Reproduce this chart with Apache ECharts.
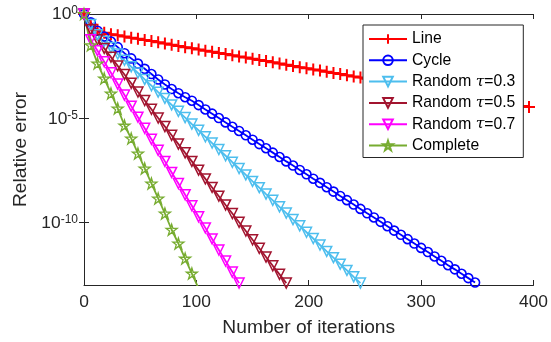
<!DOCTYPE html>
<html><head><meta charset="utf-8">
<script src="https://cdn.jsdelivr.net/npm/echarts@6/dist/echarts.min.js"></script>
<style>html,body{margin:0;padding:0;background:#fff}#c{width:551px;height:342px}</style>
</head><body><div id="c"></div>
<script>
// Iteration counts at which the errors were recorded
const iterations = [0,6,12,18,24,30,36,42,48,54,60,66,72,78,84,90,96,102,108,114,120,126,132,138,144,150,156,162,168,174,180,186,192,198,204,210,216,222,228,234,240,246,252,258,264,270,276,282,288,294,300,306,312,318,324,330,336,342,348,354,360,366,372,378,384,390,396];
// log10 of relative error
const lineLog10 = [0,-0.5,-0.75,-0.9,-0.97,-1.02,-1.08,-1.14,-1.19,-1.25,-1.30,-1.36,-1.42,-1.47,-1.53,-1.59,-1.64,-1.70,-1.76,-1.81,-1.87,-1.92,-1.98,-2.04,-2.09,-2.15,-2.21,-2.26,-2.32,-2.38,-2.43,-2.49,-2.55,-2.60,-2.66,-2.71,-2.77,-2.83,-2.88,-2.94,-3.00,-3.05,-3.11,-3.17,-3.22,-3.28,-3.33,-3.39,-3.45,-3.50,-3.56,-3.62,-3.67,-3.73,-3.79,-3.84,-3.90,-3.96,-4.01,-4.07,-4.12,-4.18,-4.24,-4.29,-4.35,-4.41,-4.46];
const cycleLog10 = [0,-0.40,-0.80,-1.08,-1.32,-1.59,-1.88,-2.13,-2.38,-2.63,-2.88,-3.14,-3.38,-3.60,-3.80,-3.99,-4.16,-4.37,-4.58,-4.78,-4.99,-5.20,-5.41,-5.61,-5.82,-6.03,-6.24,-6.44,-6.65,-6.86,-7.07,-7.27,-7.48,-7.69,-7.90,-8.10,-8.31,-8.52,-8.73,-8.93,-9.14,-9.35,-9.56,-9.76,-9.97,-10.18,-10.39,-10.59,-10.80,-11.01,-11.22,-11.42,-11.63,-11.84,-12.05,-12.25,-12.46,-12.67,-12.88];
const rand03Log10 = [0,-0.5,-1.0,-1.31,-1.61,-1.92,-2.22,-2.53,-2.83,-3.14,-3.44,-3.75,-4.05,-4.36,-4.67,-4.97,-5.28,-5.58,-5.89,-6.19,-6.50,-6.80,-7.11,-7.41,-7.72,-8.03,-8.33,-8.64,-8.94,-9.25,-9.55,-9.86,-10.16,-10.47,-10.77,-11.08,-11.39,-11.69,-12.00,-12.30,-12.61,-12.91];
const rand05Log10 = [0,-0.75,-1.23,-1.65,-2.07,-2.49,-2.90,-3.32,-3.74,-4.15,-4.57,-4.99,-5.40,-5.82,-6.24,-6.66,-7.07,-7.49,-7.91,-8.32,-8.74,-9.16,-9.57,-9.99,-10.41,-10.83,-11.24,-11.66,-12.08,-12.49,-12.91];
const rand07Log10 = [0,-1.23,-1.76,-2.29,-2.82,-3.36,-3.89,-4.42,-4.95,-5.48,-6.01,-6.54,-7.07,-7.60,-8.13,-8.67,-9.20,-9.73,-10.26,-10.79,-11.32,-11.85,-12.38,-12.91];
const completeLog10 = [0,-1.5,-2.37,-3.09,-3.81,-4.53,-5.35,-5.97,-6.69,-7.41,-8.13,-8.85,-9.57,-10.35,-11.01,-11.73,-12.45,-13.17];
const seriesNames = ['Line','Cycle','Random τ=0.3','Random τ=0.5','Random τ=0.7','Complete'];
const xTicks = [0,100,200,300,400];
const yTickValues = [1,1e-5,1e-10];

const FONT = '"Liberation Sans", Arial, Helvetica, sans-serif';
const AX = '#262626';
const plusPath = 'path://M5,0 L5,10 M0,5 L10,5';
const starPath = 'path://M5,0 L6.123,3.455 L9.755,3.455 L6.817,5.59 L7.939,9.045 L5,6.91 L2.061,9.045 L3.183,5.59 L0.245,3.455 L3.877,3.455 Z';

function mk(name, logs, color, symbol, size, rotate, bw) {
  return {
    name: name, type: 'line',
    data: logs.map((v, i) => [iterations[i], Math.pow(10, v)]),
    symbol: symbol, symbolSize: size, symbolRotate: rotate || 0, showSymbol: true, showAllSymbol: true,
    lineStyle: { color: color, width: 1.8 },
    itemStyle: { color: 'rgba(0,0,0,0)', borderColor: color, borderWidth: bw || 1.5 },
    emphasis: { disabled: true }, clip: true
  };
}

const chart = echarts.init(document.getElementById('c'), null, { renderer: 'canvas' });
chart.setOption({
  animation: false,
  backgroundColor: '#fff',
  grid: { left: 84, top: 12, right: 15, bottom: 55, containLabel: false },
  legend: {
    orient: 'vertical', left: 363, top: 25,
    padding: [6, 8, 4, 5], itemGap: 5.3, itemWidth: 38, itemHeight: 12, itemTextGap: 6.5,
    backgroundColor: '#fff', borderColor: AX, borderWidth: 1,
    data: seriesNames,
    formatter: n => n.replace('τ', '{t|τ}'),
    textStyle: { fontSize: 15.7, fontFamily: FONT, color: '#000', lineHeight: 16,
      rich: { t: { fontFamily: '"DejaVu Serif", serif', fontStyle: 'italic', fontSize: 15.7, lineHeight: 16, color: '#000' } } }
  },
  xAxis: [{
    type: 'value', min: xTicks[0], max: xTicks[xTicks.length - 1], interval: 100, position: 'bottom',
    axisLine: { show: true, lineStyle: { color: AX, width: 1 } },
    axisTick: { show: true, inside: true, length: 5, lineStyle: { color: AX } },
    axisLabel: { fontSize: 17.4, fontFamily: FONT, color: AX, margin: 9 },
    splitLine: { show: false },
    name: 'Number of iterations', nameLocation: 'middle', nameGap: 33,
    nameTextStyle: { fontSize: 19.2, fontFamily: FONT, color: AX }
  }, {
    type: 'value', min: xTicks[0], max: xTicks[xTicks.length - 1], interval: 100, position: 'top',
    axisLine: { show: true, lineStyle: { color: AX, width: 1 } },
    axisTick: { show: true, inside: true, length: 5, lineStyle: { color: AX } },
    axisLabel: { show: false }, splitLine: { show: false }
  }],
  yAxis: [{
    type: 'log', logBase: 10, min: 1e-13, max: 1, position: 'left',
    axisLine: { show: true, lineStyle: { color: AX, width: 1 } },
    axisTick: { show: true, inside: true, length: 5, lineStyle: { color: AX }, customValues: yTickValues },
    minorTick: { show: false },
    axisLabel: {
      customValues: yTickValues, margin: 6,
      formatter: v => '{b|10}{s|' + Math.round(Math.log10(v)) + '}',
      rich: {
        b: { fontSize: 17.4, fontFamily: FONT, color: AX, verticalAlign: 'bottom', lineHeight: 18, padding: [6, 0, 0, 0] },
        s: { fontSize: 12, fontFamily: FONT, color: AX, verticalAlign: 'top', lineHeight: 13 }
      }
    },
    splitLine: { show: false },
    name: 'Relative error', nameLocation: 'middle', nameGap: 54, nameRotate: 90,
    nameTextStyle: { fontSize: 19.2, fontFamily: FONT, color: AX }
  }, {
    type: 'log', logBase: 10, min: 1e-13, max: 1, position: 'right',
    axisLine: { show: true, lineStyle: { color: AX, width: 1 } },
    axisTick: { show: true, inside: true, length: 5, lineStyle: { color: AX }, customValues: yTickValues },
    minorTick: { show: false },
    axisLabel: { show: false }, splitLine: { show: false }
  }],
  series: [
    mk(seriesNames[0], lineLog10, '#FF0000', plusPath, 12, 0, 2),
    mk(seriesNames[1], cycleLog10, '#0000FF', 'circle', 9, 0, 1.6),
    mk(seriesNames[2], rand03Log10, '#4DBEEE', 'triangle', 10, 180, 1.5),
    mk(seriesNames[3], rand05Log10, '#A2142F', 'triangle', 10, 180, 1.5),
    mk(seriesNames[4], rand07Log10, '#FF00FF', 'triangle', 10, 180, 1.5),
    mk(seriesNames[5], completeLog10, '#77AC30', starPath, 11, 0, 1.3)
  ]
});
</script></body></html>
